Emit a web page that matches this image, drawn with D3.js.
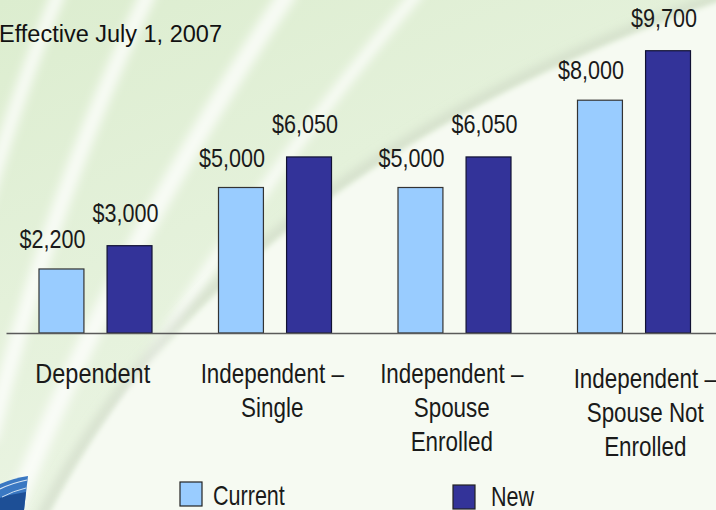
<!DOCTYPE html>
<html>
<head>
<meta charset="utf-8">
<script src="https://cdn.jsdelivr.net/npm/d3@7/dist/d3.min.js"></script>
<style>
  html, body { margin: 0; padding: 0; background: #fff; }
  svg { display: block; }
  text { font-family: "Liberation Sans", Arial, sans-serif; }
</style>
</head>
<body>
<div id="chart"></div>
<script>
// Tuition cap by student category (values in dollars)
const categories = ['Dependent', 'Independent – Single', 'Independent – Spouse Enrolled', 'Independent – Spouse Not Enrolled'];
const categoryLines = [
  ['Dependent'],
  ['Independent –', 'Single'],
  ['Independent –', 'Spouse', 'Enrolled'],
  ['Independent –', 'Spouse Not', 'Enrolled'],
];
const seriesNames = ['Current', 'New'];
const currentValues = [2200, 5000, 5000, 8000];
const newValues = [3000, 6050, 6050, 9700];
const title = 'Effective July 1, 2007';

const W = 716, H = 510;
const colors = { Current: '#99ccff', New: '#333399' };
// label nudges as placed on the slide
const labelShift = { Current: { dx: -9, dy: -21 }, New: { dx: -4, dy: -24 } };

const svg = d3.select('#chart').append('svg')
  .attr('width', W).attr('height', H)
  .attr('viewBox', `0 0 ${W} ${H}`);

// no narrow face installed, so squeeze the regular one
function narrowText(parent, x, y, str, size, anchor, sx) {
  return parent.append('g')
    .attr('transform', `translate(${x},${y}) scale(${sx},1)`)
    .append('text')
    .attr('text-anchor', anchor)
    .attr('font-size', size)
    .attr('fill', '#1a1a1a')
    .text(str);
}

// ---- background (slide template) ----
const defs = svg.append('defs');
const bg = defs.append('linearGradient').attr('id', 'bg')
  .attr('x1', 0).attr('y1', 0).attr('x2', 0.6).attr('y2', 1);
bg.append('stop').attr('offset', 0).attr('stop-color', '#dcedcf');
bg.append('stop').attr('offset', 1).attr('stop-color', '#eef6e8');
defs.append('filter').attr('id', 'blur').attr('x', -0.2).attr('y', -0.2).attr('width', 1.4).attr('height', 1.4)
  .append('feGaussianBlur').attr('stdDeviation', 5);
defs.append('filter').attr('id', 'blur2').attr('x', -0.2).attr('y', -0.2).attr('width', 1.4).attr('height', 1.4)
  .append('feGaussianBlur').attr('stdDeviation', 2.5);

svg.append('rect').attr('width', W).attr('height', H).attr('fill', 'url(#bg)');

const deco = svg.append('g');
// soft white streaks in the green part
[
  { d: 'M-30,260 Q10,110 60,-10', w: 14 },
  { d: 'M-10,440 Q50,200 150,-10', w: 16 },
  { d: 'M10,520 Q110,260 290,-10', w: 18 },
  { d: 'M60,520 Q200,250 420,-10', w: 12 },
].forEach((s) => {
  deco.append('path').attr('d', s.d).attr('fill', 'none')
    .attr('stroke', '#ffffff').attr('stroke-opacity', 0.75)
    .attr('stroke-width', s.w).attr('filter', 'url(#blur)');
});
// big light area lower right, with a faint shadow edge
deco.append('path')
  .attr('d', 'M40,520 C150,300 380,110 740,-10')
  .attr('fill', 'none').attr('stroke', '#c9d3c2').attr('stroke-width', 10)
  .attr('stroke-opacity', 0.6).attr('filter', 'url(#blur)');
deco.append('path')
  .attr('d', 'M48,520 C158,300 388,112 748,-8 L760,520 Z')
  .attr('fill', '#f6faf2').attr('filter', 'url(#blur2)');

// logo fragment bottom-left
const logo = svg.append('g');
logo.append('path').attr('d', 'M0,484 Q14,478 28,476 L24,510 L0,510 Z').attr('fill', '#3a78c2');
logo.append('path').attr('d', 'M0,498 Q12,494 26,492 L24,510 L0,510 Z').attr('fill', '#1d4f96');
logo.append('path').attr('d', 'M0,489 Q12,483 27,480').attr('fill', 'none').attr('stroke', '#dbe8f5').attr('stroke-width', 1.2);
logo.append('path').attr('d', 'M2,497 Q13,491 26,488').attr('fill', 'none').attr('stroke', '#cfe0f2').attr('stroke-width', 1);

// ---- chart ----
const x0 = d3.scaleBand().domain(categories).range([6, 724]).padding(0);
const x1 = d3.scaleBand().domain(seriesNames).range([33, 146]).paddingInner(0.34);
const y = d3.scaleLinear().domain([0, 10000]).range([333, 42]);

const rows = categories.map((c, i) => ({ cat: c, Current: currentValues[i], New: newValues[i] }));

const groups = svg.append('g').selectAll('g').data(rows).join('g')
  .attr('transform', (d) => `translate(${x0(d.cat)},0)`);

groups.selectAll('rect')
  .data((d) => seriesNames.map((s) => ({ s, v: d[s] })))
  .join('rect')
  .attr('x', (d) => x1(d.s))
  .attr('y', (d) => y(d.v))
  .attr('width', x1.bandwidth())
  .attr('height', (d) => y(0) - y(d.v))
  .attr('fill', (d) => colors[d.s])
  .attr('stroke', (d) => d.s === 'New' ? '#111133' : '#333')
  .attr('stroke-width', 1.2);

// value labels
groups.each(function (d) {
  const g = d3.select(this);
  seriesNames.forEach((s) => {
    const sh = labelShift[s];
    narrowText(g, x1(s) + x1.bandwidth() / 2 + sh.dx, y(d[s]) + sh.dy, '$' + d3.format(',')(d[s]), 26, 'middle', 0.83);
  });
});

// baseline axis
svg.append('g')
  .attr('transform', `translate(0,${y(0)})`)
  .call(d3.axisBottom(x0).tickSize(0).tickFormat(''))
  .call((sel) => sel.select('.domain').attr('stroke', '#5a5a5a').attr('stroke-width', 1.5));

// category labels (wrapped)
categoryLines.forEach((lines, i) => {
  const last = i === categoryLines.length - 1;
  const cx = x0(categories[i]) + x0.bandwidth() / 2 + (last ? 11 : -3);
  lines.forEach((ln, j) => {
    const sx = ln === 'Dependent' ? 0.87 : 0.83;
    narrowText(svg, cx, 383 + (last ? 5 : 0) + j * 34, ln, 27, 'middle', sx);
  });
});

// title
svg.append('text')
  .attr('x', -1).attr('y', 42)
  .attr('font-size', 23.5)
  .attr('fill', '#111')
  .text(title);

// legend
const legend = svg.append('g');
const legendPos = [{ x: 180, y: 482, tx: 33, ty: 23 }, { x: 453, y: 485, tx: 38, ty: 21 }];
seriesNames.forEach((s, i) => {
  const p = legendPos[i];
  legend.append('rect').attr('x', p.x).attr('y', p.y).attr('width', 22).attr('height', 24)
    .attr('fill', colors[s]).attr('stroke', '#222').attr('stroke-width', 1.2);
  narrowText(legend, p.x + p.tx, p.y + p.ty, s, 28, 'start', 0.77);
});
</script>
</body>
</html>
